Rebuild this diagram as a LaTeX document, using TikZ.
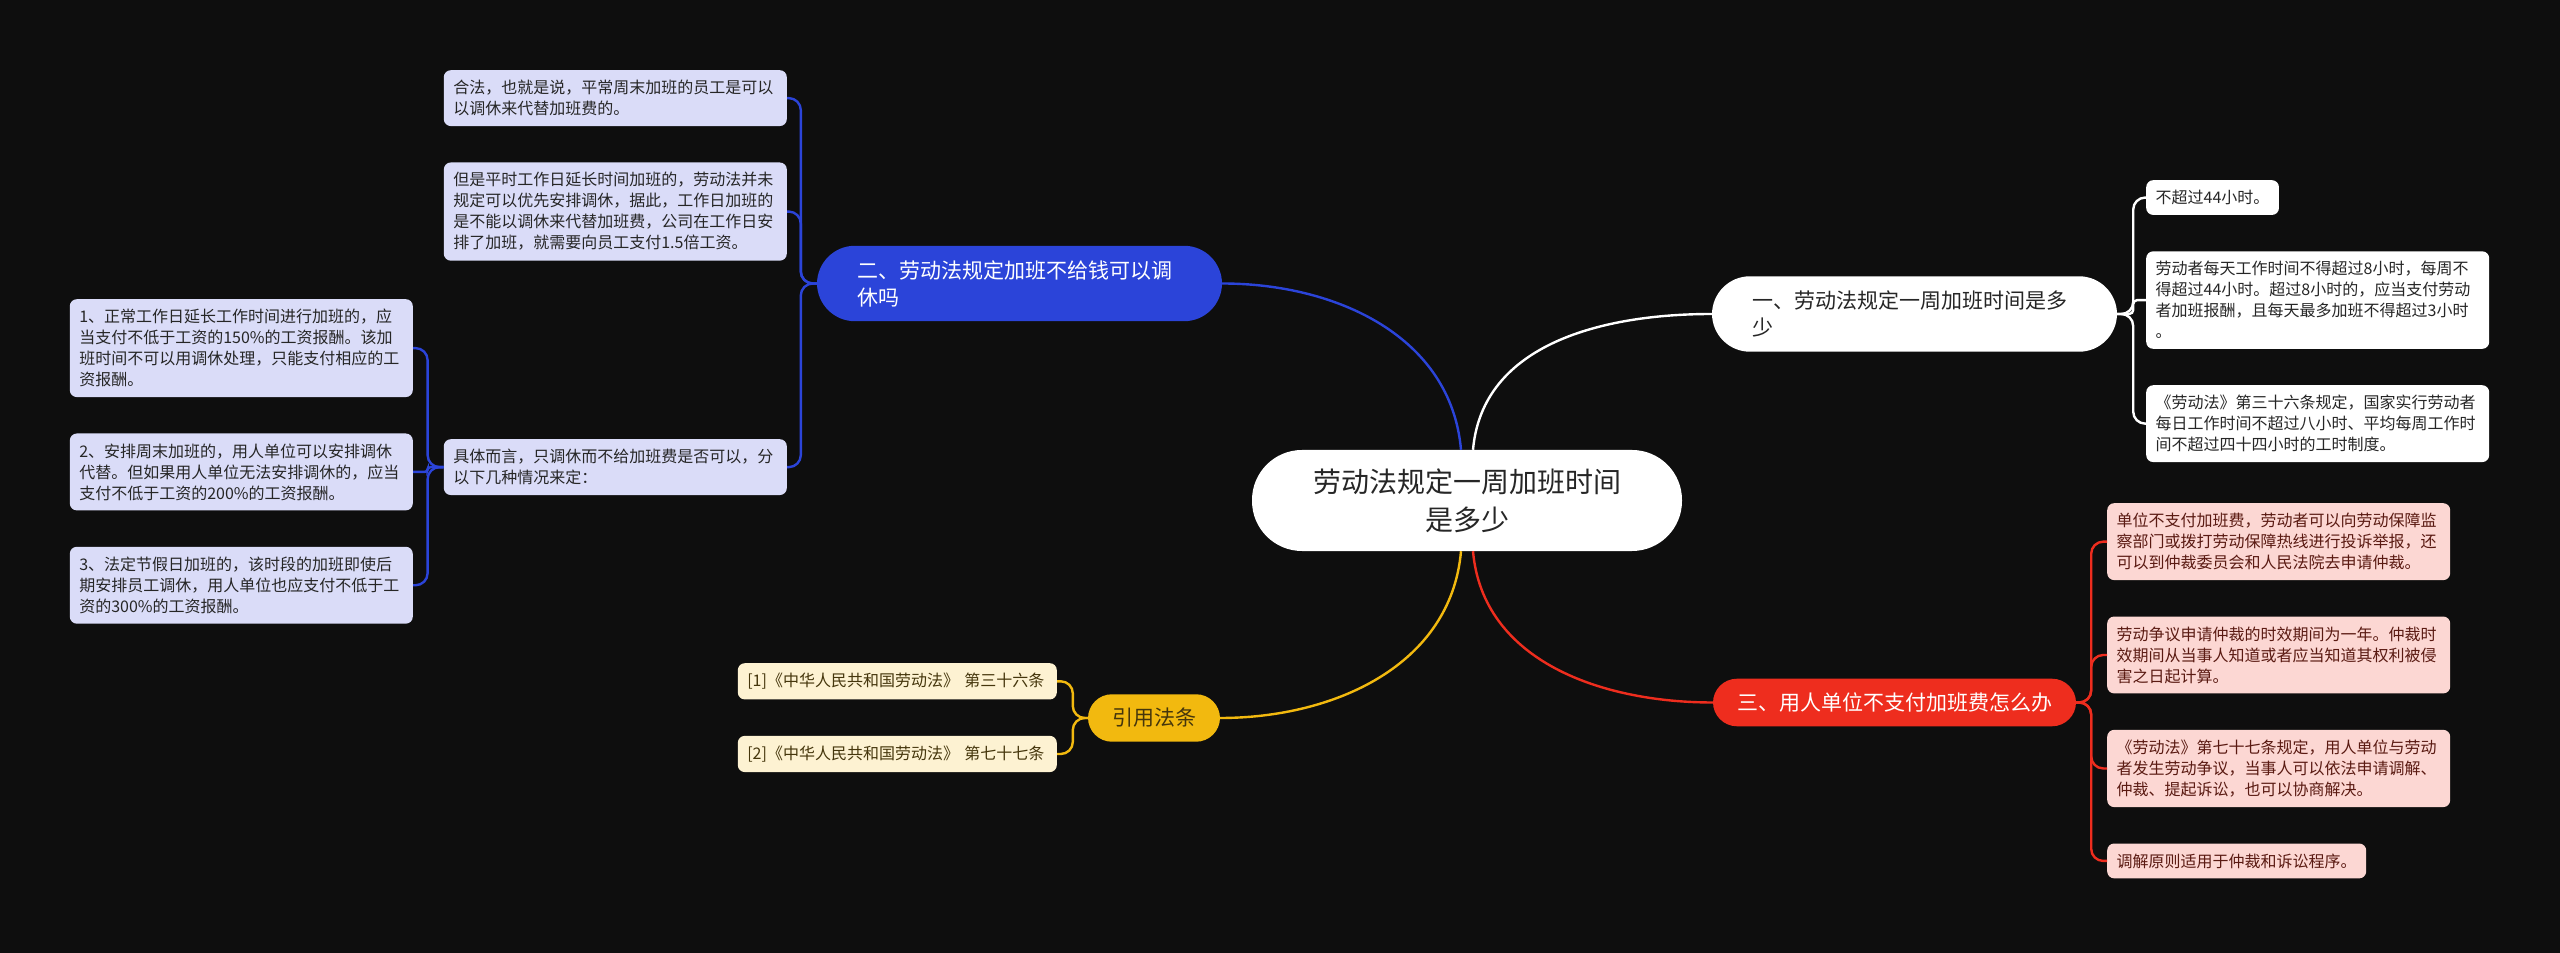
\documentclass[tikz,border=0pt]{standalone}
\usepackage{fontspec}
\setmainfont{Noto Sans CJK SC}
\usetikzlibrary{positioning}
\definecolor{bgdark}{HTML}{0E0E0E}
\definecolor{textdark}{HTML}{262626}
\definecolor{topicblue}{HTML}{2B44D9}
\definecolor{leafblue}{HTML}{DADCF8}
\definecolor{topicred}{HTML}{EE2D1E}
\definecolor{leafred}{HTML}{FCD7D3}
\definecolor{textred}{HTML}{5A1A12}
\definecolor{topicyellow}{HTML}{F2B90F}
\definecolor{leafyellow}{HTML}{FDF2D2}
\definecolor{textyellow}{HTML}{45360C}

\begin{document}
\begin{tikzpicture}[
    x=1pt, y=1pt,
    node distance=36pt,
    centre/.style={fill=white, text=textdark, rounded corners=50pt, align=center,
        text width=310pt, inner xsep=60pt, inner ysep=18.5pt, font=\fontsize{28}{38}\selectfont},
    topic/.style={rounded corners=24pt, align=left, inner xsep=24pt, inner ysep=14pt,
        font=\fontsize{21}{27}\selectfont},
    wrapped/.style={text width=325pt, inner xsep=40pt, inner ysep=14.5pt, rounded corners=38pt},
    leaf/.style={rounded corners=7pt, align=left, inner xsep=9.5pt, inner ysep=10pt,
        font=\fontsize{16}{21}\selectfont},
    wideleaf/.style={leaf, text width=324pt},
    whiteleaf/.style={fill=white, text=textdark},
    blueleaf/.style={fill=leafblue, text=textdark},
    redleaf/.style={fill=leafred, text=textred},
    yellowleaf/.style={leaf, fill=leafyellow, text=textyellow, text width=300pt},
    link/.style={line width=2.4pt},
    whitelink/.style={link, draw=white},
    bluelink/.style={link, draw=topicblue},
    redlink/.style={link, draw=topicred},
    yellowlink/.style={link, draw=topicyellow}
]
\fill[bgdark] (0,0) rectangle (2560,953);
\useasboundingbox (0,0) rectangle (2560,953);

% main topics
\node[centre] (centre) at (1467,452.5) {劳动法规定一周加班时间\\是多少};
\node[topic, wrapped, fill=white, text=textdark] (one) at (1914.5,639) {一、劳动法规定一周加班时间是多\\少};
\node[topic, wrapped, fill=topicblue, text=white] (two) at (1019.5,669.5) {二、劳动法规定加班不给钱可以调\\休吗};
\node[topic, fill=topicred, text=white] (three) at (1894.5,250.5) {三、用人单位不支付加班费怎么办};
\node[topic, fill=topicyellow, text=textyellow] (cite) at (1154,235) {引用法条};

% branch one
\node[leaf, whiteleaf, anchor=north west] (w1) at (2146,773) {不超过44小时。};
\node[wideleaf, whiteleaf, below=of w1.south west, anchor=north west] (w2) {劳动者每天工作时间不得超过8小时，每周不\\得超过44小时。超过8小时的，应当支付劳动\\者加班报酬，且每天最多加班不得超过3小时\\。};
\node[wideleaf, whiteleaf, below=of w2.south west, anchor=north west] (w3) {《劳动法》第三十六条规定，国家实行劳动者\\每日工作时间不超过八小时、平均每周工作时\\间不超过四十四小时的工时制度。};

% branch two
\node[wideleaf, blueleaf, anchor=north east] (b1) at (787,883) {合法，也就是说，平常周末加班的员工是可以\\以调休来代替加班费的。};
\node[wideleaf, blueleaf, below=of b1.south east, anchor=north east] (b2) {但是平时工作日延长时间加班的，劳动法并未\\规定可以优先安排调休，据此，工作日加班的\\是不能以调休来代替加班费，公司在工作日安\\排了加班，就需要向员工支付1.5倍工资。};
\node[wideleaf, blueleaf, anchor=north east] (b3) at (787,514) {具体而言，只调休而不给加班费是否可以，分\\以下几种情况来定：};
\node[wideleaf, blueleaf, anchor=north east] (s1) at (413,654) {1、正常工作日延长工作时间进行加班的，应\\当支付不低于工资的150\%的工资报酬。该加\\班时间不可以用调休处理，只能支付相应的工\\资报酬。};
\node[wideleaf, blueleaf, below=of s1.south east, anchor=north east] (s2) {2、安排周末加班的，用人单位可以安排调休\\代替。但如果用人单位无法安排调休的，应当\\支付不低于工资的200\%的工资报酬。};
\node[wideleaf, blueleaf, below=of s2.south east, anchor=north east] (s3) {3、法定节假日加班的，该时段的加班即使后\\期安排员工调休，用人单位也应支付不低于工\\资的300\%的工资报酬。};

% branch three
\node[wideleaf, redleaf, anchor=north west] (r1) at (2107,450) {单位不支付加班费，劳动者可以向劳动保障监\\察部门或拨打劳动保障热线进行投诉举报，还\\可以到仲裁委员会和人民法院去申请仲裁。};
\node[wideleaf, redleaf, below=of r1.south west, anchor=north west] (r2) {劳动争议申请仲裁的时效期间为一年。仲裁时\\效期间从当事人知道或者应当知道其权利被侵\\害之日起计算。};
\node[wideleaf, redleaf, below=of r2.south west, anchor=north west] (r3) {《劳动法》第七十七条规定，用人单位与劳动\\者发生劳动争议，当事人可以依法申请调解、\\仲裁、提起诉讼，也可以协商解决。};
\node[leaf, redleaf, below=of r3.south west, anchor=north west] (r4) {调解原则适用于仲裁和诉讼程序。};

% citations
\node[yellowleaf, anchor=north east] (y1) at (1057,290) {[1]《中华人民共和国劳动法》 第三十六条};
\node[yellowleaf, below=of y1.south east, anchor=north east] (y2) {[2]《中华人民共和国劳动法》 第七十七条};

% centre to topics
\draw[bluelink] ([xshift=-6pt]centre.north) to[out=95,in=0] (two.east);
\draw[whitelink] ([xshift=6pt]centre.north) to[out=85,in=180] (one.west);
\draw[yellowlink] ([xshift=-6pt]centre.south) to[out=-95,in=0] (cite.east);
\draw[redlink] ([xshift=6pt]centre.south) to[out=-85,in=180] (three.west);

% topics to leaves
\draw[whitelink, rounded corners=12pt] (one.east) -- ++(16,0) |- (w1.west);
\draw[whitelink, rounded corners=4pt] (one.east) -- ++(16,0) |- (w2.west);
\draw[whitelink, rounded corners=12pt] (one.east) -- ++(16,0) |- (w3.west);
\draw[bluelink, rounded corners=12pt] (two.west) -- ++(-16,0) |- (b1.east);
\draw[bluelink, rounded corners=12pt] (two.west) -- ++(-16,0) |- (b2.east);
\draw[bluelink, rounded corners=12pt] (two.west) -- ++(-16,0) |- (b3.east);
\draw[bluelink, rounded corners=12pt] (b3.west) -- ++(-16,0) |- (s1.east);
\draw[bluelink, rounded corners=3pt] (b3.west) -- ++(-16,0) |- (s2.east);
\draw[bluelink, rounded corners=12pt] (b3.west) -- ++(-16,0) |- (s3.east);
\draw[redlink, rounded corners=12pt] (three.east) -- ++(15,0) |- (r1.west);
\draw[redlink, rounded corners=12pt] (three.east) -- ++(15,0) |- (r2.west);
\draw[redlink, rounded corners=12pt] (three.east) -- ++(15,0) |- (r3.west);
\draw[redlink, rounded corners=12pt] (three.east) -- ++(15,0) |- (r4.west);
\draw[yellowlink, rounded corners=12pt] (cite.west) -- ++(-15,0) |- (y1.east);
\draw[yellowlink, rounded corners=12pt] (cite.west) -- ++(-15,0) |- (y2.east);
\end{tikzpicture}
\end{document}
